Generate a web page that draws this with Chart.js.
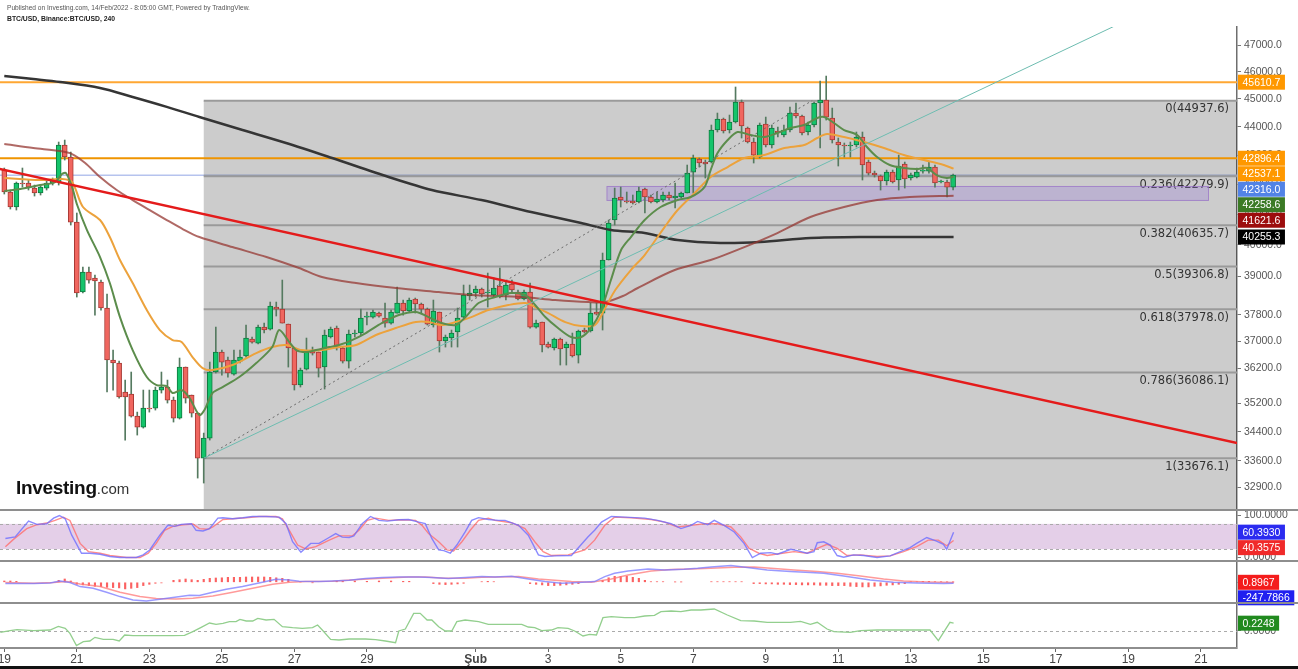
<!DOCTYPE html>
<html lang="tr">
<head>
<meta charset="utf-8">
<title>BTC/USD 240</title>
<script src="https://cdn.jsdelivr.net/npm/chart.js@4.4.1/dist/chart.umd.min.js"></script>
<style>
  html, body { margin: 0; padding: 0; background: #fff; }
  #page { position: relative; width: 1298px; height: 669px; overflow: hidden; font-family: "Liberation Sans", Arial, sans-serif; }
  #page canvas { position: absolute; left: 0; top: 0; }
  .txt { position: absolute; white-space: nowrap; }
  .sep { position: absolute; background: #8e8e8e; }
</style>
</head>
<body>
<div id="page">
  <canvas id="mainChart" width="1298" height="669"></canvas>
  <canvas id="stochChart" width="1298" height="669"></canvas>
  <canvas id="macdChart" width="1298" height="669"></canvas>
  <canvas id="oscChart" width="1298" height="669"></canvas>
  <div class="txt" style="left:7px;top:4px;font-size:6.6px;color:#555;">Published on Investing.com, 14/Feb/2022 - 8:05:00 GMT, Powered by TradingView.</div>
  <div class="txt" style="left:7px;top:15px;font-size:6.8px;font-weight:bold;color:#222;">BTC/USD, Binance:BTC/USD, 240</div>
  <div class="txt" style="left:16px;top:478px;font-size:19px;line-height:19px;font-weight:bold;color:#111;letter-spacing:-0.3px;">Investing<span style="font-size:15px;font-weight:normal;color:#333;letter-spacing:0;">.com</span></div>
  <div class="sep" style="left:0;top:509px;width:1298px;height:2px;"></div>
  <div class="sep" style="left:0;top:560px;width:1298px;height:2px;"></div>
  <div class="sep" style="left:0;top:602px;width:1298px;height:2px;"></div>
  <div class="sep" style="left:0;top:647px;width:1237px;height:2px;"></div>
  <div class="sep" style="left:0;top:666px;width:1298px;height:3px;background:#111;"></div>
</div>
<script>
// x axis is in days from 19 Jan 2022 00:00, one candle = 4h = 1/6 day
const xMin = -0.1186;
const xMax = 33.996;
const xTickDays = [0, 2, 4, 6, 8, 10, 13, 15, 17, 19, 21, 23, 25, 27, 29, 31, 33];
const xTickLabels = ['19', '21', '23', '25', '27', '29', 'Şub', '3', '5', '7', '9', '11', '13', '15', '17', '19', '21'];

// price axis (log)
const priceMin = 32297;
const priceMax = 47688;
const priceTicks = [47000, 46000, 45000, 44000, 43000, 42000, 41000, 40000, 39000, 37800, 37000, 36200, 35200, 34400, 33600, 32900];

// 4h candles
const opens = [42490,41743,41241,42047,42047,41877,41709,41877,42047,42081,43357,42938,40744,38507,39133,38944,38819,38013,36451,36363,
  35522,35465,34840,34532,35066,35066,35579,35665,35293,34784,36246,35436,34924,33679,34227,36100,36687,36451,36041,36421,
  36569,37074,36954,37434,37374,38043,37982,37525,36806,35723,36187,36746,36687,36246,37134,37404,36806,36421,37224,37254,
  37737,37737,37859,37707,37555,37859,38167,37921,38290,38136,37982,37495,37890,37014,37104,37284,37737,38383,38476,38600,
  38476,38414,38694,38414,38757,38507,38290,38507,37434,37585,36925,36806,37074,36806,36925,36598,37344,37314,37890,37859,
  39514,40810,41575,41441,41441,41407,41844,41575,41407,41474,41642,41541,41575,41709,42421,42869,42765,42765,43884,44275,
  43884,44168,44887,43955,43461,42938,44097,43357,43849,43709,43884,44490,44383,43814,44062,44850,44960,44311,43461,43357,
  43323,43357,43637,42765,42387,42285,42115,42421,42149,42697,42217,42251,42455,42455,42593,42081,42081,41911];
const highs = [42559,41810,42081,42559,42149,41979,41979,42115,42217,43461,43531,43111,41042,39291,39291,39038,38881,38445,36746,36421,
  35867,36100,34952,35579,35579,35665,36100,35867,35379,36510,36246,35436,34924,34365,36392,37434,36746,36539,36746,36746,
  37495,37134,37495,37555,38197,38197,38881,37525,36806,36216,37104,36835,36687,37344,37434,37465,36835,37344,37344,37982,
  37890,37951,37890,38167,37951,38663,38259,38321,38321,38167,38013,38259,37890,37194,37344,38013,38725,38725,38694,38632,
  39101,38944,39259,38850,38881,38569,38569,38787,37646,37585,36984,37104,37104,36984,37254,37344,37404,38167,38167,39738,
  40810,41877,41911,41743,41642,41911,41877,41642,41743,41743,41743,42047,41743,42662,43007,42903,42834,44062,44490,44311,
  44418,45434,44960,43991,43602,44133,44346,44062,43991,44062,44705,44850,44418,44168,44887,45654,45837,44669,43602,43427,
  43461,43814,43814,42834,42455,42319,42490,42490,43007,42765,42387,42559,42662,42765,42662,42149,42149,42353];
const lows = [41676,41174,41141,41911,41810,41608,41642,41810,41979,41979,42834,40646,38352,38476,38787,37798,37951,35522,35579,35350,
  34172,34812,34310,34504,34952,35009,35493,35208,34672,34756,35208,34812,33140,33007,34172,36071,36012,35954,36012,36363,
  36539,36954,36925,37254,37344,37768,37555,36245,35579,35665,36158,36598,35954,35608,37104,36746,36363,36216,37134,37194,
  37495,37707,37737,37434,37525,37859,37798,37890,37859,37859,37495,37434,36687,36835,36835,36835,37707,38259,38352,38352,
  38043,38352,38321,38259,38507,38259,38259,37404,37404,36687,36806,36746,36304,36304,36539,36363,37254,37284,37798,37344,
  39514,40646,41241,41374,41340,41374,41042,41374,41374,41407,41474,41207,41541,41709,41709,42593,42217,42731,43814,43779,
  43779,44133,43602,43427,42731,42903,43288,43253,43637,43637,43814,44311,43709,43709,43991,43253,44239,43427,42628,42938,
  42938,43288,42149,42319,42251,41810,41979,42047,41810,41877,42149,42217,42387,42387,41911,42047,41575,41810];
const closes = [41743,41241,42047,42013,41911,41709,41911,42047,42149,43357,42938,40744,38476,39133,38881,38850,38013,36451,36363,35379,
  35379,34840,34532,35066,35038,35579,35665,35293,34784,36246,35350,34924,33679,34227,36100,36687,36392,36071,36451,36539,
  37104,36984,37434,37344,38074,37982,37555,36806,35723,36158,36687,36657,36216,37194,37374,36806,36421,37224,37254,37707,
  37768,37890,37768,37555,37890,38167,37921,38259,38136,37982,37525,37921,37014,37134,37254,37707,38414,38476,38600,38445,
  38507,38632,38352,38725,38569,38290,38507,37434,37555,36895,36835,37074,36776,36925,36569,37314,37284,37859,37829,39514,
  40711,41541,41474,41407,41374,41777,41575,41407,41508,41642,41541,41608,41709,42387,42903,42731,42697,43884,44275,43849,
  44168,44887,44027,43461,43007,44062,43357,43955,43779,43884,44490,44383,43779,44062,44850,44960,44346,43531,43357,43323,
  43357,43637,42662,42387,42319,42115,42421,42081,42628,42183,42319,42421,42490,42593,42047,42115,41911,42316];

// moving averages: [day, price]
const maFast = [[0,41777],[0.44,41844],[0.99,41979],[1.40,42081],[1.59,42353],[1.70,42387],[1.87,41911],[2.01,41307],[2.28,40482],
  [2.64,39610],[2.91,38787],[3.19,37737],[3.54,36746],[3.93,35954],[4.20,35723],[4.48,35694],[4.64,35493],[4.89,35579],[5.11,35350],
  [5.38,34868],[5.52,35009],[5.74,35493],[6.02,35665],[6.48,35954],[6.95,36363],[7.39,36835],[7.58,37344],[7.86,36984],[8.05,36746],
  [8.32,36687],[8.60,36746],[8.96,36835],[9.23,36895],[9.59,37044],[9.97,37254],[10.41,37555],[10.88,37798],[11.35,37890],[11.70,37737],
  [12.06,37555],[12.45,37495],[12.72,37737],[13.08,38167],[13.54,38352],[13.98,38476],[14.37,38414],[14.64,38105],[14.92,37737],
  [15.27,37404],[15.63,37134],[15.91,37134],[16.18,37404],[16.46,37951],[16.73,38881],[17.01,39834],[17.28,40254],[17.66,40810],
  [18.10,41241],[18.57,41474],[18.93,41575],[19.31,41911],[19.48,42490],[19.67,43076],[19.95,43531],[20.22,43814],[20.58,43709],
  [20.96,43637],[21.32,43779],[21.68,43955],[22.06,44062],[22.42,44311],[22.61,44346],[22.88,44133],[23.16,43884],[23.52,43709],
  [23.79,43288],[24.07,42938],[24.42,42662],[24.81,42559],[25.16,42524],[25.44,42559],[25.71,42319],[25.99,42217],[26.18,42258.6]];
const maMid = [[0,42217],[0.99,42149],[1.59,42183],[1.87,42081],[2.17,41241],[2.64,40810],[2.91,40254],[3.19,39514],[3.54,38787],
  [3.93,37951],[4.29,37344],[4.64,37044],[4.89,36984],[5.19,36539],[5.47,36216],[5.74,36158],[6.29,36304],[6.95,36657],[7.39,36835],
  [7.77,36895],[8.21,36746],[8.76,36746],[9.23,36835],[9.70,36895],[10.25,37194],[10.80,37404],[11.35,37585],[11.70,37585],
  [12.06,37495],[12.45,37585],[12.88,37737],[13.35,37951],[13.90,38105],[14.37,38167],[14.64,38043],[15.00,37859],[15.47,37585],
  [15.91,37465],[16.29,37495],[16.57,38013],[16.85,38569],[17.28,39196],[17.66,39674],[18.21,40580],[18.57,41141],[19.04,41709],
  [19.48,42251],[19.95,42593],[20.41,42903],[20.96,43007],[21.51,43250],[22.06,43357],[22.42,43602],[22.69,43743],[23.16,43637],
  [23.71,43461],[24.26,43250],[24.81,43007],[25.36,42834],[25.91,42662],[26.18,42537.1]];
const maSlow = [[0,43392],[0.80,43253],[1.54,43146],[1.87,43042],[2.23,42731],[2.64,42251],[3.10,41810],[3.54,41474],[4.01,41141],
  [4.48,40810],[4.92,40515],[5.38,40254],[6.29,39930],[7.23,39610],[8.13,39259],[8.76,38975],[9.70,38787],[10.80,38632],[11.98,38507],
  [12.88,38414],[14.26,38352],[15.19,38259],[16.10,38197],[16.57,38197],[17.06,38383],[17.47,38632],[18.49,39196],[19.48,39514],
  [20.41,39930],[21.32,40384],[22.23,40909],[23.16,41241],[24.07,41474],[24.97,41575],[26.18,41621.6]];
const ma200 = [[0,45838],[0.80,45727],[1.54,45617],[2.64,45397],[3.54,45071],[4.48,44713],[5.38,44346],[6.57,43884],[7.77,43427],
  [9.04,42903],[10.60,42251],[11.79,41810],[13.16,41474],[14.53,41075],[15.91,40711],[16.73,40482],[17.66,40384],[18.57,40157],
  [19.75,40060],[20.85,40092],[22.23,40222],[23.60,40254],[26.18,40255.3]];

// drawings
const fibStartDay = 5.5;
const fibHigh = 44937.6;
const fibLow = 33676.1;
const fibRatios = [0, 0.236, 0.382, 0.5, 0.618, 0.786, 1];
const trendDown = [[-0.5, 42632], [34, 34092]];
const trendUp = [[5.5, 33676.1], [30.93, 47931]];
const fibDiagonal = [[5.5, 33676.1], [22.28, 44937.6]];
const zoneDays = [16.62, 33.21];
const zonePrices = [41930, 41460];
const resistUpper = 45610.7;
const resistLower = 42896.4;
const lastPrice = 42316.0;

// stochastic RSI: [day, value]
const stochK = [[0.03,45.3],[0.30,49.2],[0.67,86.7],[0.90,78.9],[1.17,80.5],[1.36,93.8],[1.52,100],[1.68,92.2],[1.86,53.1],[2.13,10.2],
  [2.36,10.2],[2.64,7.8],[2.91,2.3],[3.19,0],[3.64,0],[3.83,6.3],[4.01,18],[4.29,53.1],[4.51,76.6],[4.70,74.2],[4.88,78.9],[5.16,80.5],
  [5.29,64.8],[5.48,63.3],[5.66,68.8],[5.89,93.8],[6.03,94.5],[6.30,92.2],[6.58,94.5],[6.85,97.7],[7.22,97.7],[7.58,96.1],[7.77,80.5],
  [7.95,37.5],[8.18,12.5],[8.45,33.6],[8.68,33.6],[8.91,45.3],[9.14,57],[9.32,48.4],[9.51,47.7],[9.64,51.6],[9.87,80.5],[10.10,97.7],
  [10.33,88.3],[10.56,86.7],[10.88,89.8],[11.15,90.6],[11.43,84.4],[11.61,80.5],[11.79,45.3],[11.98,18],[12.12,16.4],[12.30,10.2],
  [12.48,29.7],[12.71,60.9],[12.89,88.3],[13.08,95],[13.35,90.6],[13.63,88.3],[13.81,88.3],[14.18,76.6],[14.45,53.1],[14.73,6.3],
  [14.91,2.3],[15.18,3.9],[15.64,4.7],[15.82,21.9],[16.10,49.2],[16.28,64.8],[16.47,84.4],[16.74,97.7],[17.11,96.1],[17.66,93.8],
  [18.02,88.3],[18.39,80.5],[18.66,68.8],[18.94,76.6],[19.12,85.9],[19.40,78.1],[19.58,88.3],[19.85,76.6],[20.13,60.9],[20.40,33.6],
  [20.63,0],[20.86,10.2],[21.14,11.7],[21.32,7.8],[21.69,19.5],[21.87,16.4],[22.14,10.2],[22.33,14.1],[22.42,35.2],[22.60,37.5],
  [22.78,29.7],[22.97,4.7],[23.15,0.8],[23.42,6.3],[23.70,4.7],[24.07,0],[24.43,3.9],[24.71,14.1],[24.98,23.4],[25.16,33.6],
  [25.44,47.7],[25.71,39.1],[25.90,31.3],[25.99,19.5],[26.18,60.393]];
const stochD = [[0.03,25.8],[0.26,43.8],[0.62,68.8],[0.90,78.1],[1.17,82],[1.40,88.3],[1.63,96.1],[1.81,88.3],[2.09,33.6],[2.32,14.1],
  [2.64,10.2],[2.91,4.7],[3.37,0],[3.74,0],[3.97,10.2],[4.19,33.6],[4.42,64.8],[4.65,74.2],[4.93,78.1],[5.20,79.7],[5.38,68.8],[5.61,67.2],
  [5.75,72.7],[6.03,90.6],[6.30,92.2],[6.67,94.5],[7.03,97.7],[7.49,97.7],[7.67,92.2],[7.86,64.8],[8.09,29.7],[8.31,20.3],[8.59,25.8],
  [8.96,41.4],[9.23,51.6],[9.60,51.6],[9.78,64.8],[10.01,88.3],[10.24,93.8],[10.60,88.3],[10.97,89.8],[11.34,88.3],[11.52,76.6],
  [11.70,57],[11.98,37.5],[12.21,18],[12.39,15.6],[12.62,37.5],[12.85,64.8],[13.08,88.3],[13.35,93.8],[13.53,88.3],[13.99,82.8],
  [14.36,68.8],[14.63,37.5],[14.86,14.1],[15.09,4.7],[15.55,6.3],[16.01,18],[16.28,41.4],[16.56,76.6],[16.83,96.1],[17.29,94.5],
  [17.84,90.6],[18.21,84.4],[18.57,72.7],[18.94,76.6],[19.30,80.5],[19.67,80.5],[20.04,72.7],[20.31,49.2],[20.54,21.9],[20.81,10.2],
  [21.04,4.7],[21.41,9.4],[21.78,14.1],[22.14,10.2],[22.42,21.9],[22.69,31.3],[22.97,21.9],[23.24,4.7],[23.61,6.3],[24.07,2.3],
  [24.43,3.9],[24.80,14.1],[25.16,25.8],[25.48,41.4],[25.76,41.4],[25.99,28.1],[26.18,40.3575]];

// MACD: [day, value]; histogram: [candle index, value]
const macdLine = [[0.03,-130],[0.81,-130],[1.26,-70],[1.54,130],[1.81,-30],[2.09,-430],[2.45,-600],[2.82,-1000],[3.19,-1430],[3.55,-1770],
  [3.92,-1860],[4.29,-1700],[4.65,-1530],[5.11,-1300],[5.38,-1330],[5.75,-1000],[6.12,-700],[6.57,-430],[7.12,0],[7.49,300],[7.86,230],
  [8.13,100],[8.68,70],[9.05,130],[9.51,200],[9.96,370],[10.42,470],[10.88,530],[11.43,530],[11.79,470],[12.25,370],[12.71,470],
  [13.17,570],[13.53,530],[13.99,600],[14.45,330],[14.91,70],[15.37,-100],[15.82,-30],[16.28,70],[16.56,570],[16.83,900],[17.20,1130],
  [17.75,1330],[18.21,1230],[18.75,1300],[19.12,1400],[19.49,1530],[20.04,1670],[20.49,1470],[21.04,1230],[21.68,1070],[22.23,970],
  [22.60,900],[23.15,630],[23.88,230],[24.52,0],[25.16,-70],[25.90,-130],[26.18,-100]];
const macdSignal = [[0.03,-30],[0.81,-100],[1.36,-30],[1.72,70],[2.09,-170],[2.64,-430],[3.19,-1000],[3.74,-1430],[4.19,-1630],
  [4.74,-1670],[5.20,-1600],[5.75,-1370],[6.30,-1000],[6.85,-600],[7.40,-200],[7.86,0],[8.31,70],[9.05,100],[9.78,270],[10.42,400],
  [11.15,530],[11.61,530],[12.16,400],[12.71,400],[13.17,500],[13.63,530],[14.18,570],[14.73,330],[15.18,200],[15.64,70],[16.19,0],
  [16.74,330],[17.20,730],[17.84,1130],[18.39,1270],[18.94,1330],[19.49,1400],[20.13,1500],[20.68,1530],[21.14,1400],[21.78,1230],
  [22.42,1070],[22.97,900],[23.61,630],[24.25,330],[24.80,130],[25.44,30],[26.18,-30]];
const macdHist = [[0,130],[1,130],[2,100],[9,200],[10,330],[11,130],[12,-200],[13,-260],[14,-330],[15,-400],[16,-430],[17,-500],[18,-530],
  [19,-560],[20,-660],[21,-600],[22,-530],[23,-330],[24,-200],[25,-100],[26,-60],[28,200],[29,260],[30,330],[31,260],[32,200],[33,300],
  [34,400],[35,430],[36,450],[37,500],[38,500],[39,500],[40,530],[41,530],[42,530],[43,530],[44,500],[45,450],[46,400],[47,300],[49,30],
  [51,-30],[55,100],[56,100],[58,130],[60,100],[62,130],[64,130],[66,100],[67,100],[71,-130],[72,-200],[73,-230],[74,-200],[75,-160],
  [76,-100],[79,60],[80,100],[81,60],[87,-130],[88,-200],[89,-260],[90,-330],[91,-330],[92,-300],[93,-260],[94,-200],[95,-130],
  [99,200],[100,450],[101,600],[102,600],[103,600],[104,500],[105,400],[106,200],[107,60],[108,60],[109,60],[111,30],[112,30],
  [117,60],[118,60],[119,60],[120,60],[121,60],[122,60],[124,-130],[125,-130],[126,-160],[127,-160],[128,-200],[129,-200],[130,-230],
  [131,-230],[132,-260],[133,-260],[134,-260],[135,-300],[136,-300],[137,-330],[138,-330],[139,-330],[140,-400],[141,-430],[142,-460],
  [143,-460],[144,-400],[145,-360],[146,-300],[147,-260],[148,-200],[149,-130],[150,60],[151,60],[152,100],[153,100],[154,60],[155,60],
  [156,30],[157,10]];
const macdLast = -247.7866;
const histLast = 0.8967;

// lower oscillator: [day, value]
const oscLine = [[-0.11,-0.05],[0.16,0],[0.35,0.03],[0.81,0],[1.26,0.02],[1.49,0.13],[1.68,0.07],[1.81,-0.08],[1.99,-0.45],[2.18,-0.33],
  [2.36,-0.31],[2.50,-0.2],[2.73,-0.26],[3.00,-0.26],[3.17,-0.31],[3.32,-0.13],[3.55,-0.15],[4.65,-0.15],[4.97,-0.14],[5.20,-0.03],
  [5.43,0.1],[5.66,0.23],[5.84,0.19],[6.03,0.22],[6.21,0.27],[6.39,0.27],[6.50,0.34],[6.67,0.29],[6.85,0.29],[6.99,0.37],[7.22,0.32],
  [7.44,0.34],[7.67,0.12],[7.95,0.09],[8.22,0.07],[8.50,0.09],[8.64,0.17],[8.77,0.02],[9.00,-0.26],[9.23,-0.28],[9.51,-0.25],
  [9.96,-0.25],[10.24,-0.27],[10.51,-0.31],[10.79,-0.36],[10.88,-0.01],[11.06,0.05],[11.29,0.52],[11.47,0.52],[11.66,0.32],
  [11.79,0.32],[11.98,0.12],[12.16,-0.01],[12.34,-0.01],[12.48,0.27],[12.71,0.32],[13.08,0.27],[13.35,0.19],[14.27,0.19],[14.45,0.11],
  [14.63,0.09],[14.82,0],[15.09,0.02],[15.27,0.09],[15.55,0.07],[15.73,-0.01],[15.96,-0.16],[16.14,-0.11],[16.33,-0.13],[16.51,0.39],
  [16.74,0.42],[17.11,0.39],[17.38,0.39],[17.66,0.44],[17.93,0.46],[18.11,0.57],[18.39,0.59],[18.66,0.57],[18.94,0.62],[19.21,0.62],
  [19.58,0.65],[19.94,0.47],[20.31,0.3],[20.68,0.29],[21.04,0.25],[21.68,0.25],[21.96,0.28],[22.23,0.19],[22.42,0.25],[22.69,0.05],
  [22.88,-0.03],[23.33,-0.05],[23.61,0],[24.07,0.02],[25.53,0.02],[25.76,-0.3],[26.08,0.25],[26.18,0.2248]];

// ---------------------------------------------------------------
const FONT = '"Liberation Sans", Arial, sans-serif';
const pts = arr => arr.map(p => ({x: p[0], y: p[1]}));

function xAxis(show) {
  return {
    type: 'linear', min: xMin, max: xMax, offset: false, display: show,
    grid: {display: true, drawOnChartArea: false, drawTicks: true, tickLength: 4, color: '#666'},
    border: {display: false},
    afterBuildTicks: s => { s.ticks = xTickDays.map(v => ({value: v})); },
    afterFit: s => {
      s.paddingLeft = 0; s.paddingRight = 0;
      if (show) s.height = 21;
    },
    ticks: {
      autoSkip: false, maxRotation: 0, padding: 0, color: '#444',
      font: c => ({family: FONT, size: 12, weight: (c.tick && c.tick.label === 'Şub') ? 'bold' : 'normal'}),
      callback: (v, i) => xTickLabels[i]
    }
  };
}

function yAxis(o) {
  return Object.assign({
    position: 'right',
    grid: {display: true, drawOnChartArea: false, drawTicks: true, tickLength: 4, color: '#777'},
    border: {display: true, color: '#6e6e6e', width: 1.5},
    afterFit: s => { s.width = 61; }
  }, o);
}

// coloured value boxes on the right axis, pushed down when they overlap
function boxLabels(items) {
  return {
    id: 'boxLabels',
    afterDraw(chart) {
      const ctx = chart.ctx, y = chart.scales.y, x0 = chart.chartArea.right + 1;
      ctx.save();
      ctx.font = '10.5px ' + FONT;
      ctx.textBaseline = 'middle';
      let prev = -1e9;
      items.forEach(it => {
        const py = Math.max(y.getPixelForValue(it.value), prev + 15.5);
        prev = py;
        const w = ctx.measureText(it.text).width + 9;
        ctx.fillStyle = it.color;
        ctx.fillRect(x0, py - 7.5, w, 15);
        ctx.fillStyle = '#fff';
        ctx.fillText(it.text, x0 + 4.5, py + 0.5);
      });
      ctx.restore();
    }
  };
}

function hLine(ctx, a, py, color, width, dash) {
  ctx.save();
  ctx.strokeStyle = color;
  ctx.lineWidth = width;
  if (dash) ctx.setLineDash(dash);
  ctx.beginPath();
  ctx.moveTo(a.left, py);
  ctx.lineTo(a.right, py);
  ctx.stroke();
  ctx.restore();
}

// fib box, zones and horizontal levels, drawn under the series
const levelsPlugin = {
  id: 'levels',
  beforeDatasetsDraw(chart) {
    const {ctx, chartArea: a} = chart, x = chart.scales.x, y = chart.scales.y;
    ctx.save();
    ctx.beginPath(); ctx.rect(a.left, a.top, a.width, a.height); ctx.clip();
    hLine(ctx, a, y.getPixelForValue(lastPrice), '#b6c3ee', 1.5);
    const fx = x.getPixelForValue(fibStartDay);
    const fTop = y.getPixelForValue(fibHigh);
    ctx.fillStyle = 'rgba(0,0,0,0.2)';
    ctx.fillRect(fx, fTop, a.right - fx, a.bottom - fTop);
    ctx.font = '11.5px "DejaVu Sans", sans-serif';
    ctx.textAlign = 'right';
    ctx.textBaseline = 'middle';
    fibRatios.forEach(r => {
      const v = fibHigh - r * (fibHigh - fibLow);
      const py = y.getPixelForValue(v);
      ctx.strokeStyle = '#9a9a9a'; ctx.lineWidth = 2;
      ctx.beginPath(); ctx.moveTo(fx, py); ctx.lineTo(a.right, py); ctx.stroke();
      ctx.fillStyle = '#333';
      ctx.fillText(r + '(' + v.toFixed(1) + ')', a.right - 8, py + 8.5);
    });
    const zx1 = x.getPixelForValue(zoneDays[0]), zx2 = x.getPixelForValue(zoneDays[1]);
    const zy1 = y.getPixelForValue(zonePrices[0]), zy2 = y.getPixelForValue(zonePrices[1]);
    ctx.fillStyle = 'rgba(150,120,215,0.3)';
    ctx.fillRect(zx1, zy1, zx2 - zx1, zy2 - zy1);
    ctx.strokeStyle = 'rgba(150,110,200,0.7)'; ctx.lineWidth = 1;
    ctx.strokeRect(zx1, zy1, zx2 - zx1, zy2 - zy1);
    hLine(ctx, a, y.getPixelForValue(resistUpper), '#ffa733', 2);
    hLine(ctx, a, y.getPixelForValue(resistLower), '#ef9400', 2);
    ctx.restore();
  }
};

function bandPlugin(from, to, dashed) {
  return {
    id: 'band',
    beforeDatasetsDraw(chart) {
      const {ctx, chartArea: a} = chart, y = chart.scales.y;
      if (from !== null) {
        const y1 = y.getPixelForValue(from), y2 = y.getPixelForValue(to);
        ctx.save();
        ctx.fillStyle = 'rgba(190,140,200,0.42)';
        ctx.fillRect(a.left, y1, a.width, y2 - y1);
        ctx.restore();
      }
      dashed.forEach(v => hLine(ctx, a, Math.round(y.getPixelForValue(v)) + 0.5, '#aaa', 1, [3, 3]));
    }
  };
}

Chart.defaults.font.family = FONT;
const common = {
  responsive: false, animation: false, devicePixelRatio: 1,
  plugins: {legend: {display: false}, tooltip: {enabled: false}}
};

// ---- main price chart ----
const upFill = '#14c46b', upEdge = '#0f7a3f', dnFill = '#f0665f', dnEdge = '#a83a35';
const isUp = i => closes[i] >= opens[i];

new Chart(document.getElementById('mainChart'), {
  type: 'bar',
  data: {
    datasets: [
      {type: 'line', data: pts(trendDown), borderColor: '#e41b1b', borderWidth: 2.5, pointRadius: 0, order: 0},
      {type: 'line', data: pts(trendUp), borderColor: '#6dbcb0', borderWidth: 1, pointRadius: 0, order: 0},
      {type: 'line', data: pts(fibDiagonal), borderColor: '#6a6a6a', borderWidth: 1, borderDash: [2, 3], pointRadius: 0, order: 0},
      {type: 'line', data: pts(maFast), borderColor: '#5c8d4c', borderWidth: 2, pointRadius: 0, tension: 0.3, order: 1},
      {type: 'line', data: pts(maMid), borderColor: '#eca23c', borderWidth: 2, pointRadius: 0, tension: 0.3, order: 1},
      {type: 'line', data: pts(maSlow), borderColor: 'rgba(150,55,50,0.75)', borderWidth: 2, pointRadius: 0, tension: 0.3, order: 1},
      {type: 'line', data: pts(ma200), borderColor: '#353535', borderWidth: 2.5, pointRadius: 0, tension: 0.3, order: 1},
      {
        data: opens.map((o, i) => ({x: i / 6, y: [o, closes[i]]})),
        backgroundColor: c => isUp(c.dataIndex) ? upFill : dnFill,
        borderColor: c => isUp(c.dataIndex) ? upEdge : dnEdge,
        borderWidth: 1, borderSkipped: false, barThickness: 5, grouped: false, order: 2
      },
      {
        data: highs.map((h, i) => ({x: i / 6, y: [lows[i], h]})),
        backgroundColor: '#557a60', barThickness: 1, grouped: false, order: 3
      }
    ]
  },
  options: Object.assign({}, common, {
    layout: {padding: {top: 27, bottom: 159, left: 0, right: 0}},
    scales: {
      x: xAxis(false),
      y: yAxis({
        type: 'logarithmic', min: priceMin, max: priceMax,
        afterBuildTicks: s => { s.ticks = priceTicks.map(v => ({value: v})); },
        ticks: {autoSkip: false, padding: 3, color: '#555', font: {size: 10.5}, callback: v => Number(v).toFixed(1)}
      })
    }
  }),
  plugins: [levelsPlugin, boxLabels([
    {value: resistUpper, color: '#ff9800', text: resistUpper.toFixed(1)},
    {value: resistLower, color: '#ff9800', text: resistLower.toFixed(1)},
    {value: maMid[maMid.length - 1][1], color: '#ff9800', text: maMid[maMid.length - 1][1].toFixed(1)},
    {value: lastPrice, color: '#5283e6', text: lastPrice.toFixed(1)},
    {value: maFast[maFast.length - 1][1], color: '#3b7a25', text: maFast[maFast.length - 1][1].toFixed(1)},
    {value: maSlow[maSlow.length - 1][1], color: '#9c0d0d', text: maSlow[maSlow.length - 1][1].toFixed(1)},
    {value: ma200[ma200.length - 1][1], color: '#000', text: ma200[ma200.length - 1][1].toFixed(1)}
  ])]
});

// ---- stochastic RSI ----
new Chart(document.getElementById('stochChart'), {
  type: 'line',
  data: {
    datasets: [
      {data: pts(stochK), borderColor: 'rgba(110,110,255,0.8)', borderWidth: 1.4, pointRadius: 0},
      {data: pts(stochD), borderColor: 'rgba(255,110,110,0.8)', borderWidth: 1.4, pointRadius: 0}
    ]
  },
  options: Object.assign({}, common, {
    layout: {padding: {top: 510, bottom: 108, left: 0, right: 0}},
    scales: {
      x: xAxis(false),
      y: yAxis({
        type: 'linear', min: -8.3, max: 113.1,
        afterBuildTicks: s => { s.ticks = [{value: 100}, {value: 0}]; },
        ticks: {autoSkip: false, padding: 3, color: '#555', font: {size: 10.5}, callback: v => Number(v).toFixed(4)}
      })
    }
  }),
  plugins: [bandPlugin(80, 20, [80, 20]), boxLabels([
    {value: stochK[stochK.length - 1][1], color: '#2b2bf0', text: stochK[stochK.length - 1][1].toFixed(4)},
    {value: stochD[stochD.length - 1][1], color: '#f02a2a', text: stochD[stochD.length - 1][1].toFixed(4)}
  ])]
});

// ---- MACD ----
new Chart(document.getElementById('macdChart'), {
  type: 'bar',
  data: {
    datasets: [
      {type: 'line', data: pts(macdLine), borderColor: 'rgba(120,120,255,0.75)', borderWidth: 1.5, pointRadius: 0, order: 0},
      {type: 'line', data: pts(macdSignal), borderColor: 'rgba(255,120,120,0.75)', borderWidth: 1.5, pointRadius: 0, order: 0},
      {data: macdHist.map(p => ({x: p[0] / 6, y: p[1]})), backgroundColor: 'rgba(250,70,70,0.85)', barThickness: 1.5, grouped: false, order: 1}
    ]
  },
  options: Object.assign({}, common, {
    layout: {padding: {top: 561, bottom: 66, left: 0, right: 0}},
    scales: {
      x: xAxis(false),
      y: yAxis({type: 'linear', min: -2070, max: 2130, ticks: {display: false}})
    }
  }),
  plugins: [boxLabels([
    {value: 0, color: '#f41c1c', text: histLast.toFixed(4)},
    {value: macdLine[macdLine.length - 1][1], color: '#2020f0', text: macdLast.toFixed(4)}
  ])]
});

// ---- lower oscillator + time axis ----
new Chart(document.getElementById('oscChart'), {
  type: 'line',
  data: {
    datasets: [
      {data: pts(oscLine), borderColor: '#93cf8e', borderWidth: 1.3, pointRadius: 0}
    ]
  },
  options: Object.assign({}, common, {
    layout: {padding: {top: 603, bottom: 0, left: 0, right: 0}},
    scales: {
      x: xAxis(true),
      y: yAxis({
        type: 'linear', min: -0.52, max: 0.83,
        afterBuildTicks: s => { s.ticks = [{value: 0}]; },
        ticks: {autoSkip: false, padding: 3, color: '#555', font: {size: 10.5}, callback: v => Number(v).toFixed(4)}
      })
    }
  }),
  plugins: [bandPlugin(null, null, [0]), boxLabels([
    {value: oscLine[oscLine.length - 1][1], color: '#218a1f', text: oscLine[oscLine.length - 1][1].toFixed(4)}
  ])]
});
</script>
</body>
</html>
